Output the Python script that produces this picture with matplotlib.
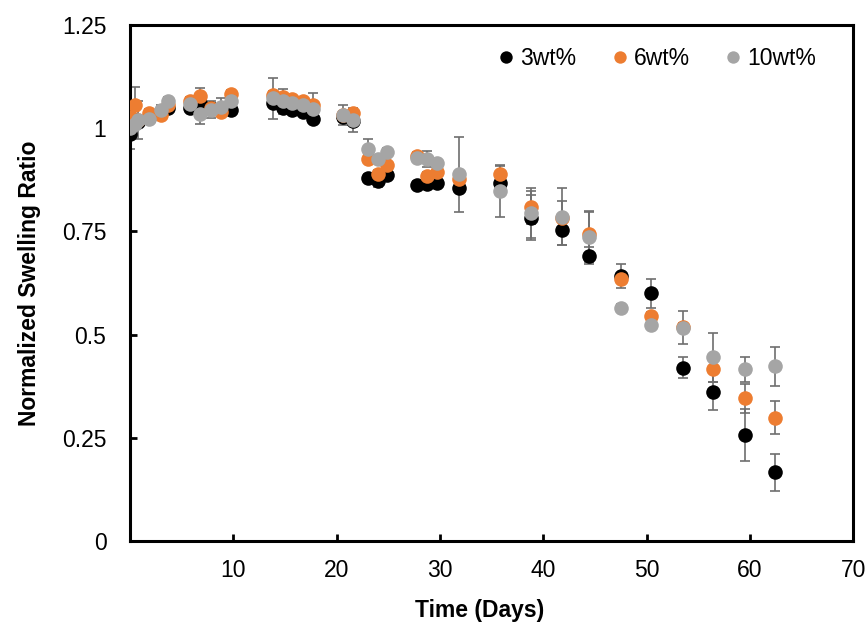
import matplotlib
matplotlib.use("Agg")
import matplotlib.pyplot as plt

plt.rcParams['font.family'] = ['Liberation Sans', 'DejaVu Sans']

# Sampling times (days)
days = [0, 0.5, 0.8, 1.8, 3.0, 3.7, 5.8, 6.8, 7.8, 8.8, 9.8,
        13.8, 14.8, 15.7, 16.7, 17.7, 20.6, 21.6, 23.0, 24.0, 24.9,
        27.8, 28.7, 29.7, 31.8, 35.8, 38.8, 41.8, 44.4, 47.5, 50.4,
        53.5, 56.4, 59.5, 62.4]

# Normalized swelling ratio per polymer concentration
ratio_3wt = [0.985, 1.020, 1.015, 1.025, 1.040, 1.050, 1.050, 1.060, 1.050, 1.045, 1.045,
             1.062, 1.050, 1.045, 1.040, 1.022, 1.028, 1.018, 0.880, 0.872, 0.886,
             0.863, 0.865, 0.867, 0.855, 0.868, 0.783, 0.753, 0.691, 0.642, 0.600,
             0.420, 0.362, 0.256, 0.166]
ratio_6wt = [1.027, 1.056, 1.020, 1.037, 1.033, 1.055, 1.065, 1.078, 1.050, 1.040, 1.082,
             1.080, 1.075, 1.070, 1.065, 1.055, 1.032, 1.037, 0.925, 0.888, 0.910,
             0.932, 0.884, 0.893, 0.876, 0.888, 0.808, 0.783, 0.744, 0.635, 0.544,
             0.518, 0.416, 0.346, 0.298]
ratio_10wt = [1.000, 1.010, 1.020, 1.023, 1.045, 1.065, 1.058, 1.035, 1.045, 1.052, 1.065,
              1.072, 1.065, 1.060, 1.057, 1.047, 1.032, 1.020, 0.950, 0.925, 0.942,
              0.928, 0.925, 0.916, 0.888, 0.847, 0.795, 0.786, 0.737, 0.564, 0.523,
              0.517, 0.445, 0.416, 0.423]

# Standard deviations
err_3wt = [0.035, 0.01, 0.01, 0.01, 0.01, 0.01, 0.01, 0.01, 0.01, 0.01, 0.01,
           0.01, 0.01, 0.01, 0.01, 0.01, 0.01, 0.01, 0.01, 0.015, 0.01,
           0.01, 0.01, 0.01, 0.01, 0.01, 0.055, 0.035, 0.02, 0.03, 0.035,
           0.025, 0.045, 0.063, 0.045]
err_6wt = [0.01, 0.045, 0.01, 0.01, 0.01, 0.01, 0.01, 0.02, 0.01, 0.01, 0.01,
           0.01, 0.01, 0.01, 0.01, 0.03, 0.01, 0.01, 0.01, 0.01, 0.01,
           0.01, 0.01, 0.01, 0.01, 0.02, 0.04, 0.04, 0.055, 0.01, 0.01,
           0.01, 0.03, 0.035, 0.04]
err_10wt = [0.01, 0.01, 0.045, 0.01, 0.01, 0.01, 0.01, 0.025, 0.02, 0.02, 0.01,
            0.05, 0.03, 0.01, 0.01, 0.01, 0.025, 0.03, 0.025, 0.01, 0.01,
            0.01, 0.02, 0.01, 0.09, 0.063, 0.06, 0.07, 0.06, 0.01, 0.01,
            0.04, 0.06, 0.03, 0.048]

series = [
    ("3wt%", ratio_3wt, err_3wt, "#000000"),
    ("6wt%", ratio_6wt, err_6wt, "#ED7D31"),
    ("10wt%", ratio_10wt, err_10wt, "#A5A5A5"),
]

fig = plt.figure(figsize=(8.67, 6.25), dpi=100)
ax = fig.add_axes([0.150, 0.1344, 0.834, 0.8256])

for label, vals, errs, color in series:
    ax.errorbar(days, vals, yerr=errs, fmt="none", ecolor="#6E6E6E",
                elinewidth=1.2, capsize=3.5, capthick=1.2, zorder=2)
for label, vals, errs, color in series:
    ax.plot(days, vals, linestyle="none", marker="o", markersize=10.5,
            color=color, markeredgewidth=0, label=label, zorder=3)

ax.set_xlim(0, 70)
ax.set_ylim(0, 1.25)
ax.set_xticks([10, 20, 30, 40, 50, 60, 70])
ax.set_yticks([0, 0.25, 0.5, 0.75, 1, 1.25])
ax.set_yticklabels(["0", "0.25", "0.5", "0.75", "1", "1.25"])

for side in ["left", "right", "top", "bottom"]:
    ax.spines[side].set_linewidth(2.2)
    ax.spines[side].set_color("black")

ax.tick_params(axis="both", direction="in", length=5, width=2, labelsize=16.5)
ax.tick_params(axis="y", pad=17)
ax.tick_params(axis="x", pad=13)

ax.set_xlabel("Time (Days)", fontsize=16.5, fontweight="bold")
ax.xaxis.set_label_coords(0.484, -0.112)
ax.set_ylabel("Normalized Swelling Ratio", fontsize=16.5, fontweight="bold",
              labelpad=15)

leg = ax.legend(loc="center right", bbox_to_anchor=(0.977, 0.935), ncol=3,
                frameon=False, fontsize=16.5, markerscale=0.85,
                handlelength=0.6, handletextpad=0.3, columnspacing=1.6)

fig.savefig("out.png", dpi=100)
